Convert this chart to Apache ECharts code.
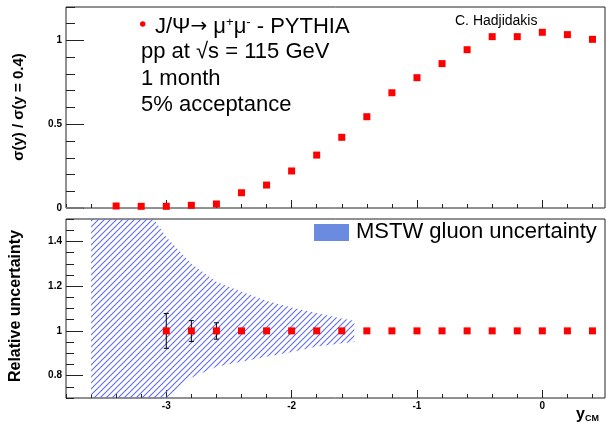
<!DOCTYPE html>
<html><head><meta charset="utf-8">
<script src="https://cdn.jsdelivr.net/npm/echarts@6/dist/echarts.min.js"></script>
<style>html,body{margin:0;padding:0;background:#fff}#c{width:606px;height:428px}</style>
</head><body><div id="c"></div>
<script>
// ---- data ----
const yCM = [-3.4,-3.2,-3.0,-2.8,-2.6,-2.4,-2.2,-2.0,-1.8,-1.6,-1.4,-1.2,-1.0,-0.8,-0.6,-0.4,-0.2,0.0,0.2,0.4];
const sigmaRatio = [0.012,0.010,0.010,0.016,0.024,0.091,0.137,0.221,0.316,0.422,0.545,0.688,0.778,0.862,0.945,1.023,1.023,1.049,1.035,1.007];
const relX = [-3.0,-2.8,-2.6,-2.4,-2.2,-2.0,-1.8,-1.6,-1.4,-1.2,-1.0,-0.8,-0.6,-0.4,-0.2,0.0,0.2,0.4];
const relVal = [1,1,1,1,1,1,1,1,1,1,1,1,1,1,1,1,1,1];
const errX = [-3.0,-2.8,-2.6];
const errLow = [0.922,0.953,0.963];
const errHigh = [1.078,1.046,1.036];
const bandX = [-3.6,-3.4,-3.2,-3.0,-2.8,-2.6,-2.4,-2.2,-2.0,-1.8,-1.6,-1.5];
const bandUp = [2.3,1.85,1.58,1.42,1.30,1.22,1.175,1.135,1.105,1.08,1.055,1.045];
const bandLow = [0.3,0.5,0.62,0.70,0.79,0.84,0.862,0.884,0.906,0.93,0.945,0.95];
const stubX = [-3.8,-3.66];
const stubY = [0,0];
const xMajor = [-3,-2,-1,0];
const xMinor = [-3.8,-3.6,-3.4,-3.2,-3.0,-2.8,-2.6,-2.4,-2.2,-2.0,-1.8,-1.6,-1.4,-1.2,-1.0,-0.8,-0.6,-0.4,-0.2,0.0,0.2,0.4];
const yTopMajor = [0,0.5,1];
const yTopMinor = [0,0.1,0.2,0.3,0.4,0.5,0.6,0.7,0.8,0.9,1.0,1.1,1.2];
const yBotMajor = [0.8,1.0,1.2,1.4];
const yBotMinor = [0.7,0.75,0.8,0.85,0.9,0.95,1.0,1.05,1.1,1.15,1.2,1.25,1.3,1.35,1.4,1.45,1.5];

// ---- hatch pattern ----
const pc = document.createElement('canvas'); pc.width = 6; pc.height = 6;
const g = pc.getContext('2d');
g.strokeStyle = '#5e6fe4'; g.lineWidth = 1.1;
[[-1,7,7,-1],[-1,1,1,-1],[5,7,7,5]].forEach(function(l){g.beginPath();g.moveTo(l[0],l[1]);g.lineTo(l[2],l[3]);g.stroke();});

const FONT = 'Liberation Sans';
const chart = echarts.init(document.getElementById('c'));
function xAx(grid, labels){
  return [{
    type:'value', gridIndex:grid, min:-3.8, max:0.5, position:'bottom',
    axisLine:{show:false, onZero:false}, splitLine:{show:false},
    axisTick:{inside:true, length:8, customValues:xMajor, lineStyle:{color:'#222'}},
    axisLabel:{show:labels, customValues:xMajor, margin:3, fontFamily:FONT, fontWeight:'bold', fontSize:10, color:'#000'}
  },{
    type:'value', gridIndex:grid, min:-3.8, max:0.5, position:'bottom',
    axisLine:{show:false, onZero:false}, splitLine:{show:false},
    axisTick:{inside:true, length:4, customValues:xMinor, lineStyle:{color:'#222'}},
    axisLabel:{show:false}
  }];
}
function yAx(grid, min, max, maj, mn, lmaj, lmin){
  return [{
    type:'value', gridIndex:grid, min:min, max:max, position:'left',
    axisLine:{show:false, onZero:false}, splitLine:{show:false},
    axisTick:{inside:true, length:lmaj, customValues:maj, lineStyle:{color:'#222'}},
    axisLabel:{customValues:maj, margin:4, fontFamily:FONT, fontWeight:'bold', fontSize:10, color:'#000'}
  },{
    type:'value', gridIndex:grid, min:min, max:max, position:'left',
    axisLine:{show:false, onZero:false}, splitLine:{show:false},
    axisTick:{inside:true, length:lmin, customValues:mn, lineStyle:{color:'#222'}},
    axisLabel:{show:false}
  }];
}
const zip = (a,b) => a.map((v,i)=>[v,b[i]]);

chart.setOption({
  animation:false,
  backgroundColor:'#fff',
  grid:[
    {left:66, top:7, right:1, height:201, show:true, borderColor:'#222', borderWidth:1, backgroundColor:'transparent'},
    {left:66, top:219, right:1, height:179, show:true, borderColor:'#222', borderWidth:1, backgroundColor:'transparent'}
  ],
  xAxis: xAx(0,false).concat(xAx(1,true)),
  yAxis: yAx(0,0,1.2,yTopMajor,yTopMinor,18,9).concat(yAx(1,0.7,1.5,yBotMajor,yBotMinor,17,8)),
  series:[
    {type:'line', xAxisIndex:0, yAxisIndex:0, data:zip(stubX,stubY), symbol:'none', lineStyle:{color:'#777', width:2}, z:1},
    {type:'scatter', xAxisIndex:0, yAxisIndex:0, data:zip(yCM,sigmaRatio), symbol:'rect', symbolSize:7, itemStyle:{color:'#ff0000', opacity:1}, z:5},
    {type:'custom', xAxisIndex:2, yAxisIndex:2, clip:true, data:[0], z:1,
      renderItem:function(params, api){
        const pts = [];
        for (let i=0;i<bandX.length;i++) pts.push(api.coord([bandX[i], bandUp[i]]));
        for (let i=bandX.length-1;i>=0;i--) pts.push(api.coord([bandX[i], bandLow[i]]));
        return {type:'polygon', shape:{points:pts}, style:{fill:{image:pc, repeat:'repeat'}, stroke:null}};
      }},
    {type:'custom', xAxisIndex:2, yAxisIndex:2, data:errX.map((x,i)=>[x,errLow[i],errHigh[i]]), z:4,
      renderItem:function(params, api){
        const lo = api.coord([api.value(0), api.value(1)]);
        const hi = api.coord([api.value(0), api.value(2)]);
        const w = 2.5;
        const st = {stroke:'#000', lineWidth:1};
        return {type:'group', children:[
          {type:'line', shape:{x1:lo[0],y1:lo[1],x2:hi[0],y2:hi[1]}, style:st},
          {type:'line', shape:{x1:lo[0]-w,y1:lo[1],x2:lo[0]+w,y2:lo[1]}, style:st},
          {type:'line', shape:{x1:hi[0]-w,y1:hi[1],x2:hi[0]+w,y2:hi[1]}, style:st}
        ]};
      }},
    {type:'scatter', xAxisIndex:2, yAxisIndex:2, data:zip(relX,relVal), symbol:'rect', symbolSize:7, itemStyle:{color:'#ff0000', opacity:1}, z:5}
  ],
  graphic:[
    {type:'circle', shape:{cx:142.7, cy:24, r:2.7}, style:{fill:'#ff0000'}},
    {type:'text', x:155, y:27, style:{
      text:'J/Ψ{arr|→} μ{sup|+}μ{sup|-} - PYTHIA', fontFamily:FONT, fontSize:22, fill:'#000', verticalAlign:'middle',
      rich:{sup:{fontSize:13, fontFamily:FONT, verticalAlign:'top', fill:'#000'},
            arr:{fontSize:20, fontFamily:'DejaVu Sans', fill:'#000'}}}},
    {type:'text', x:141, y:52, style:{text:'pp at √s = 115 GeV', fontFamily:FONT, fontSize:22, fill:'#000', verticalAlign:'middle'}},
    {type:'text', x:141, y:79, style:{text:'1 month', fontFamily:FONT, fontSize:22, fill:'#000', verticalAlign:'middle'}},
    {type:'text', x:141, y:105, style:{text:'5% acceptance', fontFamily:FONT, fontSize:22, fill:'#000', verticalAlign:'middle'}},
    {type:'text', x:455, y:21, style:{text:'C. Hadjidakis', fontFamily:FONT, fontSize:14, fill:'#000', verticalAlign:'middle'}},
    {type:'rect', shape:{x:314, y:224, width:35, height:17}, style:{fill:'#6b8be0'}},
    {type:'text', x:356, y:232, style:{text:'MSTW gluon uncertainty', fontFamily:FONT, fontSize:22, fill:'#000', verticalAlign:'middle'}},
    {type:'text', x:19, y:107, rotation:Math.PI/2, style:{text:'σ(y) / σ(y = 0.4)', fontFamily:FONT, fontWeight:'bold', fontSize:15, fill:'#000', align:'center', verticalAlign:'middle'}},
    {type:'text', x:16, y:306, rotation:Math.PI/2, style:{text:'Relative uncertainty', fontFamily:FONT, fontWeight:'bold', fontSize:16, fill:'#000', align:'center', verticalAlign:'middle'}},
    {type:'text', x:576, y:415, style:{text:'y{sub|CM}', fontFamily:FONT, fontWeight:'bold', fontSize:16, fill:'#000', verticalAlign:'middle',
      rich:{sub:{fontFamily:FONT, fontWeight:'bold', fontSize:9, verticalAlign:'bottom', fill:'#000'}}}}
  ]
});
</script></body></html>
